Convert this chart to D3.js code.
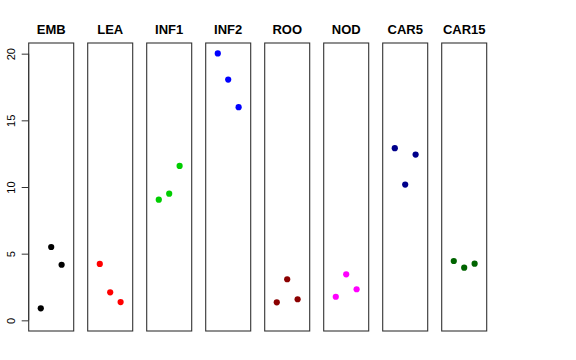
<!DOCTYPE html>
<html><head><meta charset="utf-8">
<script src="https://cdn.jsdelivr.net/npm/d3@7"></script>
<style>body{margin:0;background:#fff}</style>
</head><body>
<svg id="c" width="576" height="360"></svg>
<script>
const categories = ["EMB","LEA","INF1","INF2","ROO","NOD","CAR5","CAR15"];
const colors = ["#000000","#ff0000","#00cd00","#0000ff","#8b0000","#ff00ff","#00008b","#006400"];
const rep1 = [0.90, 4.23, 9.05, 20.02, 1.35, 1.77, 12.91, 4.45];
const rep2 = [5.50, 2.10, 9.50, 18.06, 3.08, 3.45, 10.18, 3.95];
const rep3 = [4.17, 1.37, 11.58, 15.99, 1.58, 2.33, 12.43, 4.25];
const yTicks = [0, 5, 10, 15, 20];

(function () {
const svg = d3.select("#c");
const panelW = 45, step = 59, left0 = 28.7, plotTop = 43, plotBottom = 331;
const y = d3.scaleLinear().domain([-0.8, 20.8]).range([plotBottom, plotTop]);
const x = d3.scaleLinear().domain([-0.16, 4.16]).range([0, panelW]);
const font = "Liberation Sans, Arial, Helvetica, sans-serif";

categories.forEach((cat, i) => {
  const g = svg.append("g").attr("transform", `translate(${left0 + step * i},0)`);
  const vals = [rep1[i], rep2[i], rep3[i]];
  g.selectAll("circle").data(vals).join("circle")
    .attr("cx", (d, j) => x(j + 1))
    .attr("cy", d => y(d))
    .attr("r", 3.1)
    .attr("fill", colors[i]);
  g.append("rect").attr("x", 0).attr("y", plotTop).attr("width", panelW).attr("height", plotBottom - plotTop)
    .attr("fill", "none").attr("stroke", "#333").attr("stroke-width", 1.1);
  g.append("text").attr("x", panelW / 2).attr("y", 34)
    .attr("text-anchor", "middle").attr("font-family", font)
    .attr("font-weight", "bold").attr("font-size", 13).text(cat);
});

const axis = d3.axisLeft(y).tickValues(yTicks).tickSize(7).tickPadding(4).tickSizeOuter(0);
const ag = svg.append("g").attr("transform", `translate(${left0},0)`).call(axis);
ag.select(".domain").attr("d", `M0,${y(0)}V${y(20)}`).attr("stroke", "#333");
ag.selectAll(".tick line").attr("stroke", "#333");
ag.selectAll(".tick text")
  .attr("font-family", font).attr("font-size", 11).attr("fill", "#000")
  .attr("transform", "rotate(-90)")
  .attr("x", 0).attr("dx", 0).attr("dy", 0)
  .attr("y", -14)
  .attr("text-anchor", "middle");
})();
</script>
</body></html>
